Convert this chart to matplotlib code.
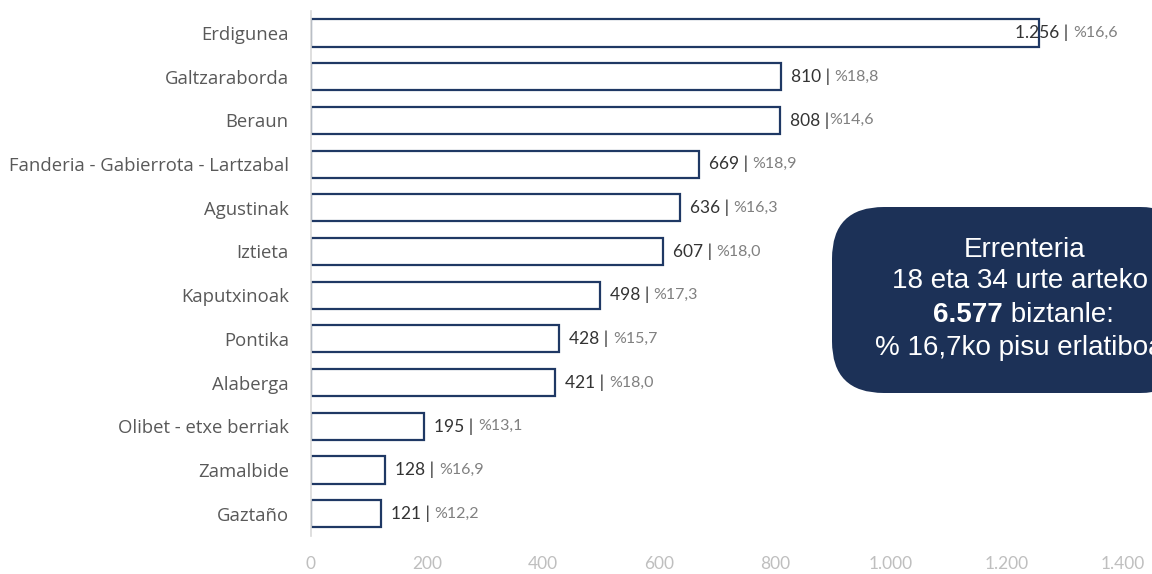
import matplotlib.pyplot as plt
from matplotlib.patches import FancyBboxPatch

# Auzoak eta 18-34 urte arteko biztanleak
auzoak = ['Erdigunea', 'Galtzaraborda', 'Beraun', 'Fanderia - Gabierrota - Lartzabal',
          'Agustinak', 'Iztieta', 'Kaputxinoak', 'Pontika', 'Alaberga',
          'Olibet - etxe berriak', 'Zamalbide', 'Gaztaño']
biztanleak = [1256, 810, 808, 669, 636, 607, 498, 428, 421, 195, 128, 121]
ehunekoak = ['%16,6', '%18,8', '%14,6', '%18,9', '%16,3', '%18,0', '%17,3', '%15,7',
             '%18,0', '%13,1', '%16,9', '%12,2']
bereizleak = [' | ', ' | ', ' |', ' | ', ' | ', ' | ', ' | ', ' | ', ' | ', ' | ', ' | ', ' | ']
x_ticks = [0, 200, 400, 600, 800, 1000, 1200, 1400]
x_tick_labels = ['0', '200', '400', '600', '800', '1.000', '1.200', '1.400']

navy = '#1f3864'
gris = '#808080'

fig = plt.figure(figsize=(11.52, 5.74), dpi=100)
ax = fig.add_axes([311 / 1152, 0.067, 812 / 1152, 0.9136])

y = list(range(len(auzoak)))
ax.barh(y, biztanleak, height=0.62, color='white', edgecolor=navy, linewidth=1.6)
ax.set_ylim(len(auzoak) - 0.5, -0.5)
ax.set_xlim(0, 1400)

ax.set_yticks(y)
ax.set_yticklabels(auzoak, fontsize=13.3, color='#595959', family='Open Sans')
ax.set_xticks(x_ticks)
ax.set_xticklabels(x_tick_labels, fontsize=12.5, color='#bfbfbf', family='Lato')
ax.tick_params(axis='y', length=0, pad=16)
ax.tick_params(axis='x', length=0, pad=15)

for s in ['top', 'right', 'bottom']:
    ax.spines[s].set_visible(False)
ax.spines['left'].set_color('#d9d9d9')
ax.spines['left'].set_linewidth(1.2)

# Balioen etiketak: zenbakia ilun, ehunekoa gris
for i, (v, p, b) in enumerate(zip(biztanleak, ehunekoak, bereizleak)):
    balioa = f'{v:,}'.replace(',', '.')
    dx = -24 if v > 1200 else 10
    t = ax.annotate(balioa + b, (v, i), xytext=(dx, 0), textcoords='offset pixels',
                    va='center', ha='left', fontsize=12.5, color='#333333',
                    family='Lato', annotation_clip=False)
    ax.annotate(p, xy=(1, 0.5), xycoords=t, xytext=(0, 0), textcoords='offset pixels',
                va='center', ha='left', fontsize=11.5, color=gris, family='Lato',
                annotation_clip=False)

# Laburpen koadroa
koadroa = FancyBboxPatch((832 / 1152, 1 - 393 / 574), 360 / 1152, 186 / 574,
                         boxstyle='round,pad=0,rounding_size=0.045',
                         transform=fig.transFigure, facecolor='#1c3157',
                         edgecolor='none', mutation_aspect=2.0, zorder=5)
fig.patches.append(koadroa)

fs = 20
testu_aukerak = dict(va='center', color='white', fontsize=fs,
                     family='Liberation Sans', zorder=6)
fig.text(1025 / 1152, 1 - 250 / 574, 'Errenteria', ha='center', **testu_aukerak)
fig.text(892 / 1152, 1 - 281 / 574, '18 eta 34 urte arteko', ha='left', **testu_aukerak)
fig.text(1003 / 1152, 1 - 315 / 574, '6.577', ha='right', fontweight='bold', **testu_aukerak)
fig.text(1003 / 1152, 1 - 315 / 574, ' biztanle:', ha='left', **testu_aukerak)
fig.text(875 / 1152, 1 - 348 / 574, '% 16,7ko pisu erlatiboa', ha='left', **testu_aukerak)

fig.savefig('out.png', dpi=100)
